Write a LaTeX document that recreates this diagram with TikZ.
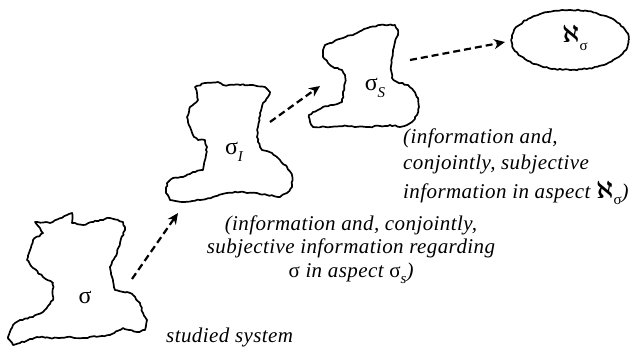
\documentclass[tikz,border=0pt]{standalone}
\usepackage{fontspec}
\setmainfont{Liberation Serif}
\usepackage{amsmath}
\usetikzlibrary{arrows.meta,decorations.pathmorphing,shapes.geometric}
\newcommand\lowidx[1]{\raisebox{-0.3em}{\fontsize{15}{15}\selectfont\itshape #1}}
\newcommand\sigup{{\upshape σ}}
\newcommand\alephsym{{\fontsize{25}{25}\selectfont$\boldsymbol{\aleph}$}}

\begin{document}
\begin{tikzpicture}[x=1pt,y=-1pt,
  blob/.style={draw,line width=1.7pt,line join=round,
    decorate,decoration={random steps,segment length=2.6pt,amplitude=0.7pt}},
  flow/.style={line width=2.2pt,dash pattern=on 7pt off 4pt,
    -{Stealth[length=11pt,width=10pt,inset=3.5pt]}},
  lbl/.style={font=\fontsize{24}{24}\selectfont,inner sep=0pt},
  captext/.style={font=\fontsize{21}{21}\selectfont\itshape\addfontfeature{LetterSpace=2},
    inner sep=0pt,anchor=base},
  captextl/.style={captext,anchor=base west}
]
\pgfmathsetseed{7}
\useasboundingbox (0,0) rectangle (639,348);

% the studied system
\draw[blob] (35,222) -- (50,223) -- (67,215) -- (72,213) -- (72,223) -- (83,225)
  -- (100,220) -- (110,218) -- (123,222) -- (125,230) -- (120,243) -- (115,257)
  -- (110,267) -- (115,290) -- (127,292) -- (133,295) -- (140,303) -- (143,313)
  -- (147,320) -- (145,330) -- (137,332) -- (123,328) -- (110,335) -- (83,338)
  -- (67,337) -- (50,338) -- (37,337) -- (20,343) -- (13,345) -- (8,337)
  -- (13,325) -- (20,320) -- (33,317) -- (43,312) -- (53,300) -- (53,283)
  -- (43,277) -- (33,268) -- (27,260) -- (33,240) -- (43,233) -- (40,228) -- cycle;
\node[lbl] (sys) at (85,297) {\sigup};

% information about it
\draw[blob] (195,87) -- (205,83) -- (218,82) -- (223,85) -- (240,85) -- (253,85)
  -- (265,87) -- (270,92) -- (268,97) -- (263,103) -- (260,113) -- (258,127)
  -- (257,137) -- (260,147) -- (262,150) -- (272,153) -- (280,160) -- (287,167)
  -- (292,175) -- (292,187) -- (287,193) -- (280,197) -- (267,195) -- (257,193)
  -- (240,192) -- (227,193) -- (213,197) -- (200,200) -- (183,202) -- (170,200)
  -- (166,193) -- (167,183) -- (173,178) -- (183,177) -- (193,172) -- (203,170)
  -- (205,160) -- (207,147) -- (205,140) -- (198,140) -- (193,135) -- (190,127)
  -- (187,117) -- (190,107) -- (198,100) -- (197,93) -- cycle;
\node[lbl] (info) at (234,152) {\sigup\lowidx{I}};

% subjective information
\draw[blob] (323,50) -- (325,45) -- (330,43) -- (343,38) -- (357,33) -- (370,27)
  -- (380,25) -- (395,25) -- (398,30) -- (398,35) -- (395,42) -- (393,50)
  -- (392,58) -- (391,70) -- (392,78) -- (397,82) -- (408,85) -- (413,90)
  -- (418,98) -- (419,107) -- (417,115) -- (412,122) -- (407,125) -- (400,127)
  -- (390,125) -- (380,126) -- (367,127) -- (347,126) -- (330,127) -- (313,127)
  -- (310,122) -- (309,115) -- (313,112) -- (323,107) -- (333,105) -- (342,102)
  -- (343,95) -- (345,83) -- (345,75) -- (342,70) -- (333,67) -- (328,63)
  -- (323,57) -- (323,53) -- cycle;
\node[lbl] (subj) at (375,88) {\sigup\lowidx{S}};

% the aspect
\node[ellipse,minimum width=117pt,minimum height=60pt,inner sep=0pt] (aspect) at (570,40) {};
\draw[blob] (aspect.center) ellipse [x radius=58.5, y radius=30];
\node[lbl] (aspectlbl) at (575,38) {\alephsym\lowidx{\upshape σ}};

% transitions
\coordinate (s1) at (132,279);  \coordinate (e1) at (178,213);
\coordinate (s2) at (270,122);  \coordinate (e2) at (320,86);
\coordinate (s3) at (410,60);   \coordinate (e3) at (505,42);
\draw[flow] (s1) -- (e1);
\draw[flow] (s2) -- (e2);
\draw[flow] (s3) -- (e3);

% captions
\node[captext] (c1a) at (351,230) {(information and, conjointly,};
\node[captext] (c1b) at (351,253) {subjective information regarding};
\node[captext] (c1c) at (351,277) {\sigup{} in aspect \sigup\lowidx{s})};

\node[captextl] (c2a) at (403,143) {(information and,};
\node[captextl] (c2b) at (403,169) {conjointly, subjective};
\node[captextl] (c2c) at (403,198) {information in aspect \alephsym\lowidx{\upshape σ})};

\node[captextl] (c3) at (166,342) {studied system};
\end{tikzpicture}
\end{document}
